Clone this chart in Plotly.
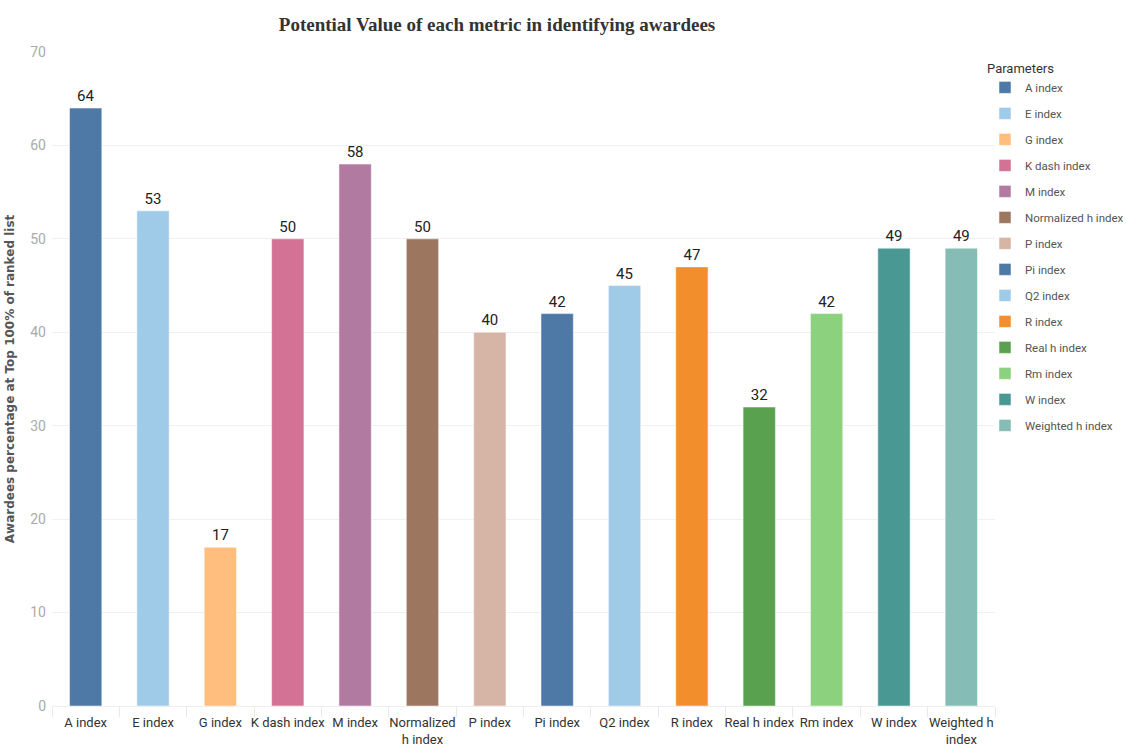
import plotly.graph_objects as go

# Metric names, tick labels and share of awardees in the top 100% of each ranked list
metrics = ["A index", "E index", "G index", "K dash index", "M index",
           "Normalized h index", "P index", "Pi index", "Q2 index", "R index",
           "Real h index", "Rm index", "W index", "Weighted h index"]
tick_labels = ["A index", "E index", "G index", "K dash index", "M index",
               "Normalized<br>h index", "P index", "Pi index", "Q2 index", "R index",
               "Real h index", "Rm index", "W index", "Weighted h<br>index"]
values = [64, 53, 17, 50, 58, 50, 40, 42, 45, 47, 32, 42, 49, 49]
colors = ["#4e79a7", "#a0cbe8", "#ffbe7d", "#d37295", "#b07aa1", "#9d7660",
          "#d7b5a6", "#4e79a7", "#a0cbe8", "#f28e2b", "#59a14f", "#8cd17d",
          "#499894", "#86bcb6"]

SANS = "Roboto, Noto Sans, sans-serif"

fig = go.Figure()
for name, lab, v, c in zip(metrics, tick_labels, values, colors):
    fig.add_trace(go.Bar(
        x=[lab], y=[v], name=name, legendgroup=name,
        marker=dict(color=c, line=dict(color="rgba(255,255,255,0.5)", width=1)),
        width=0.48,
        text=[str(v)], textposition="outside",
        textfont=dict(family=SANS, size=15, color="#222"),
        cliponaxis=False,
    ))

fig.update_layout(
    width=1126, height=754,
    margin=dict(l=52, r=131, t=52, b=48, autoexpand=False),
    paper_bgcolor="white", plot_bgcolor="white",
    title=dict(text="<b>Potential Value of each metric in identifying awardees</b>",
               x=497 / 1126, xanchor="center", y=1 - 24 / 754, yanchor="middle",
               font=dict(family="Liberation Serif, Times New Roman, serif", size=19,
                         color="#333")),
    showlegend=True,
    legend=dict(
        title=dict(text="Parameters", font=dict(family=SANS, size=13, color="#333")),
        font=dict(family=SANS, size=11.5, color="#555"),
        xref="container", yref="container",
        x=985 / 1126, xanchor="left", y=1 - 56 / 754, yanchor="top",
        traceorder="grouped", tracegroupgap=7, itemwidth=30,
        maxheight=0.95,
        bgcolor="rgba(0,0,0,0)",
    ),
    font=dict(family=SANS),
)

fig.update_xaxes(
    categoryorder="array", categoryarray=tick_labels,
    tickfont=dict(family=SANS, size=13, color="#333"), tickangle=0,
    ticklabelstandoff=4,
    showline=True, linecolor="#eeeeee", linewidth=1,
    ticks="outside", tickson="boundaries", ticklen=10, tickcolor="#e8e8e8",
    showgrid=False, automargin=False,
)
fig.update_yaxes(
    range=[0, 70], dtick=10,
    tickfont=dict(family=SANS, size=14, color="#aaaaaa"),
    showgrid=True, gridcolor="#f0f0f0", gridwidth=1,
    zeroline=False, showline=False, ticks="", ticklabelstandoff=5,
    automargin=False,
    title=dict(text="<b>Awardees percentage at Top 100% of ranked list</b>",
               font=dict(family="DejaVu Sans, Noto Sans, sans-serif", size=12,
                         color="#555"), standoff=13),
)

fig.write_html("out.html")
